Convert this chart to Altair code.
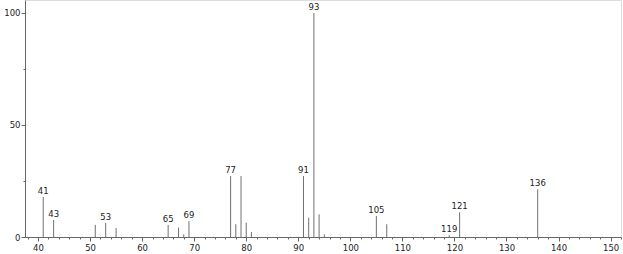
import altair as alt
import pandas as pd

mz = [41, 43, 51, 53, 55, 65, 67, 68, 69, 77, 78, 79, 80, 81, 91, 92, 93, 94, 95, 105, 107, 119, 121, 136]
intensity = [17.9, 7.6, 5.4, 6.3, 4.0, 5.4, 4.2, 1.2, 7.1, 27.2, 5.7, 27.2, 6.4, 2.2, 27.2, 8.6, 100.0, 10.1, 1.2, 9.4, 5.7, 0.8, 11.0, 21.3]
labeled = [41, 43, 53, 65, 69, 77, 91, 93, 105, 119, 121, 136]

x_major = list(range(40, 151, 10))
x_minor = [v for v in range(38, 153, 2) if v % 10 != 0]
y_major = [0, 50, 100]
y_minor = [25, 75]

df = pd.DataFrame({"mz": mz, "intensity": intensity})
df["label"] = [str(m) if m in labeled else "" for m in mz]

FONT = "DejaVu Sans"
AX = "#666"

xscale = alt.Scale(domain=[37.5, 152], nice=False, zero=False)
yscale = alt.Scale(domain=[0, 105.8], nice=False)

xaxis = alt.Axis(
    values=x_major, orient="bottom", title=None, grid=False,
    domainColor=AX, tickColor=AX, tickSize=4,
    labelFont=FONT, labelFontSize=8.5, labelColor="#222", labelPadding=2,
    labelFlush=False, labelOverlap=False,
)
yaxis = alt.Axis(
    values=y_major, orient="left", title=None, grid=False,
    domainColor=AX, tickColor=AX, tickSize=4,
    labelFont=FONT, labelFontSize=8.5, labelColor="#222", labelPadding=1,
    labelFlush=False, labelOverlap=False,
)
xminor = alt.Axis(
    values=x_minor, orient="bottom", title=None, grid=False, domain=False,
    tickColor=AX, tickSize=2, labels=False,
)
yminor = alt.Axis(
    values=y_minor, orient="left", title=None, grid=False, domain=False,
    tickColor=AX, tickSize=2, labels=False,
)

base = alt.Chart(df)

bars = base.mark_rule(color="#707070", strokeWidth=1).encode(
    x=alt.X("mz:Q", scale=xscale, axis=xaxis),
    y=alt.Y("intensity:Q", scale=yscale, axis=yaxis),
    y2=alt.datum(0),
)

labels = base.transform_filter("datum.label != ''").mark_text(
    font=FONT, fontSize=8.5, color="#222", baseline="bottom", dy=-1
).encode(
    x=alt.X("mz:Q", scale=xscale, axis=xminor),
    y=alt.Y("intensity:Q", scale=yscale, axis=yminor),
    text="label:N",
)

chart = alt.layer(bars, labels).resolve_axis(x="independent", y="independent").properties(
    width=596, height=237,
    autosize=alt.AutoSizeParams(type="none"),
    padding={"left": 25, "top": 0, "right": 2, "bottom": 17},
).configure_view(stroke=None).configure(background="white")

chart.save("out.html", embed_options={"renderer": "svg", "actions": False})
